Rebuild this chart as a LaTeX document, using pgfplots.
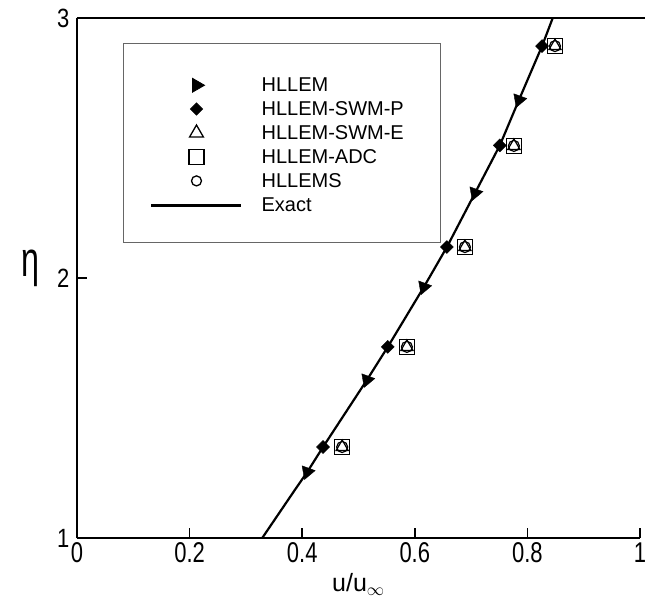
\documentclass[border=0pt]{standalone}
\usepackage{pgfplots}
\pgfplotsset{compat=1.18}
\usepackage{fontspec}
\setmainfont{Liberation Sans}
\usepackage{graphicx}
\begin{document}
\begin{tikzpicture}
\pgfplotsset{myleg/.style={legend image code/.code={\path (0pt,-8pt) (0pt,14pt);\draw[mark repeat=2,mark phase=2,##1] plot coordinates {(0pt,0pt) (45pt,0pt) (90pt,0pt)};}}}
\begin{axis}[
  scale only axis, width=563pt, height=520pt,
  xmin=0, xmax=1, ymin=1, ymax=3,
  axis x line=box, axis y line=left,
  axis line style={-, line width=1.6pt},
  xtick={0,0.2,0.4,0.6,0.8,1}, ytick={1,2,3},
  xtick pos=left, ytick pos=left,
  tick align=inside, major tick length=10pt,
  minor tick num=0,
  tick style={line width=1.6pt, black},
  /pgf/number format/assume math mode=true,
  tick label style={font=\fontsize{22}{22}\selectfont},
  xticklabel={\scalebox{1}[1.3]{\pgfmathprintnumber{\tick}}},
  yticklabel={\scalebox{1}[1.2]{\pgfmathprintnumber{\tick}}},
  yticklabel style={xshift=-4pt},
  xticklabel style={yshift=-1pt},
  xlabel={u/u$_{\infty}$},
  xlabel style={font=\fontsize{25}{25}\selectfont, at={(axis description cs:0.5,-0.09)}, anchor=center},
  ylabel={\scalebox{0.95}[1.45]{η}},
  ylabel style={font=\fontsize{34}{34}\selectfont, at={(axis description cs:-0.0835,0.519)}, anchor=center, rotate=-90},
  clip=false,
  legend cell align=left,
  legend style={at={(0.0817,0.952)}, anchor=north west, draw=black!60, line width=0.8pt,
    font=\fontsize{20}{20}\selectfont, inner xsep=27pt, inner ysep=27.5pt,
    row sep=-0.2pt, column sep=17pt},
]
% legend images
\addlegendimage{only marks, mark=triangle*, mark size=8pt, black, mark options={rotate=-90, fill=black}, myleg}
\addlegendentry{HLLEM}
\addlegendimage{only marks, mark=square*, mark size=4.3pt, black, mark options={rotate=45, fill=black}, myleg}
\addlegendentry{HLLEM-SWM-P\hspace*{8pt}}
\addlegendimage{only marks, mark=triangle, mark size=8pt, black, mark options={line width=1.3pt}, myleg}
\addlegendentry{HLLEM-SWM-E}
\addlegendimage{only marks, mark=square, mark size=7.5pt, black, mark options={line width=1.3pt}, myleg}
\addlegendentry{HLLEM-ADC}
\addlegendimage{only marks, mark=o, mark size=5pt, black, mark options={line width=1.3pt}, myleg}
\addlegendentry{HLLEMS}
\addlegendimage{black, line width=2.2pt, myleg}
\addlegendentry{Exact}

% Exact
\addplot[black, line width=2.2pt, line join=round, forget plot] coordinates {
(0.329,1.000) (0.387,1.185) (0.409,1.254) (0.437,1.350) (0.515,1.608)
(0.552,1.735) (0.616,1.965) (0.657,2.119) (0.707,2.327) (0.751,2.510)
(0.785,2.685) (0.826,2.892) (0.845,3.000)};
% HLLEM
\addplot[only marks, mark=triangle*, mark size=8pt, black, mark options={rotate=160, fill=black}, forget plot] coordinates {
(0.409,1.254) (0.515,1.608) (0.616,1.965) (0.707,2.327) (0.785,2.685)};
% HLLEM-SWM-P
\addplot[only marks, mark=square*, mark size=4.6pt, black, mark options={rotate=45, fill=black}, forget plot] coordinates {
(0.437,1.350) (0.552,1.735) (0.657,2.119) (0.751,2.510) (0.826,2.892)};
% HLLEM-SWM-E
\addplot[only marks, mark=triangle, mark size=7pt, black, mark options={line width=1.2pt}, forget plot] coordinates {
(0.471,1.350) (0.586,1.735) (0.689,2.119) (0.776,2.508) (0.849,2.892)};
% HLLEM-ADC
\addplot[only marks, mark=square, mark size=7.5pt, black, mark options={line width=1.6pt}, forget plot] coordinates {
(0.471,1.350) (0.586,1.735) (0.689,2.119) (0.776,2.508) (0.849,2.892)};
% HLLEMS
\addplot[only marks, mark=o, mark size=5.5pt, black, mark options={line width=1.2pt}, forget plot] coordinates {
(0.471,1.350) (0.586,1.735) (0.689,2.119) (0.776,2.508) (0.849,2.892)};

\coordinate (bl) at (rel axis cs:-0.13677,-0.13462);
\coordinate (tr) at (rel axis cs:1.00888,1.03462);
\coordinate (topr) at (rel axis cs:1,1);
\end{axis}
\draw[line width=1.6pt] (topr) -- ++(6pt,0);
\pgfresetboundingbox
\path[use as bounding box] (bl) rectangle (tr);
\end{tikzpicture}
\end{document}
